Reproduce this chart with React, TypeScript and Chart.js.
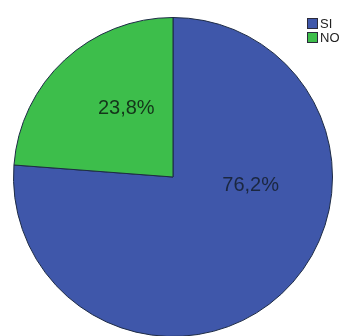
import React, { useEffect, useRef } from "react";
import { Chart, registerables } from "chart.js";

Chart.register(...registerables);

const categories = ["SI", "NO"];
const values = [76.2, 23.8];
const valueLabels = ["76,2%", "23,8%"];
const colors = ["#3F57AA", "#3DBE4B"];
const labelAngleFrac = [0.352, 0.6];
const labelRadiusFrac = [0.49, 0.52];

const labelPlugin = {
  id: "sliceLabels",
  afterDatasetsDraw(chart: any) {
    const meta = chart.getDatasetMeta(0);
    const ctx = chart.ctx;
    ctx.save();
    ctx.font = "20px 'Liberation Sans Narrow', 'Liberation Sans', Arial, sans-serif";
    ctx.textAlign = "center";
    ctx.textBaseline = "middle";
    meta.data.forEach((arc: any, i: number) => {
      const { x, y, startAngle, endAngle, outerRadius } = arc.getProps(
        ["x", "y", "startAngle", "endAngle", "outerRadius"],
        true
      );
      const a = startAngle + (endAngle - startAngle) * labelAngleFrac[i];
      const r = outerRadius * labelRadiusFrac[i];
      ctx.fillStyle = i === 0 ? "#1b2740" : "#14361a";
      ctx.fillText(valueLabels[i], x + Math.cos(a) * r, y + Math.sin(a) * r);
    });
    ctx.restore();
  },
};

const legendPlugin = {
  id: "boxLegend",
  afterDraw(chart: any) {
    const ctx = chart.ctx;
    ctx.save();
    const x0 = 307;
    const y0 = 18;
    const size = 11;
    const gap = 14;
    ctx.font = "13px 'Liberation Sans', Arial, sans-serif";
    ctx.textBaseline = "middle";
    ctx.textAlign = "left";
    categories.forEach((c, i) => {
      const y = y0 + i * gap;
      ctx.fillStyle = colors[i];
      ctx.fillRect(x0, y, size, size);
      ctx.strokeStyle = "#2a2a3a";
      ctx.lineWidth = 1;
      ctx.strokeRect(x0 + 0.5, y + 0.5, size - 1, size - 1);
      ctx.fillStyle = "#222";
      ctx.fillText(c, x0 + size + 2, y + size / 2 + 0.5);
    });
    ctx.restore();
  },
};

export default function App() {
  const ref = useRef<HTMLCanvasElement>(null);
  useEffect(() => {
    if (!ref.current) return;
    const chart = new Chart(ref.current, {
      type: "pie",
      data: {
        labels: categories,
        datasets: [
          {
            data: values,
            backgroundColor: colors,
            borderColor: "#1d2b45",
            borderWidth: 1,
          },
        ],
      },
      options: {
        responsive: false,
        animation: false,
        layout: { padding: { left: 13, top: 17, right: 22, bottom: 3 } },
        plugins: {
          legend: { display: false },
          tooltip: { enabled: false },
        },
      },
      plugins: [labelPlugin, legendPlugin],
    });
    return () => chart.destroy();
  }, []);
  return (
    <div
      style={{
        position: "fixed",
        left: 0,
        top: 0,
        width: 355,
        height: 336,
        overflow: "hidden",
        background: "#fff",
      }}
    >
      <canvas ref={ref} width={355} height={340} style={{ display: "block" }} />
    </div>
  );
}
